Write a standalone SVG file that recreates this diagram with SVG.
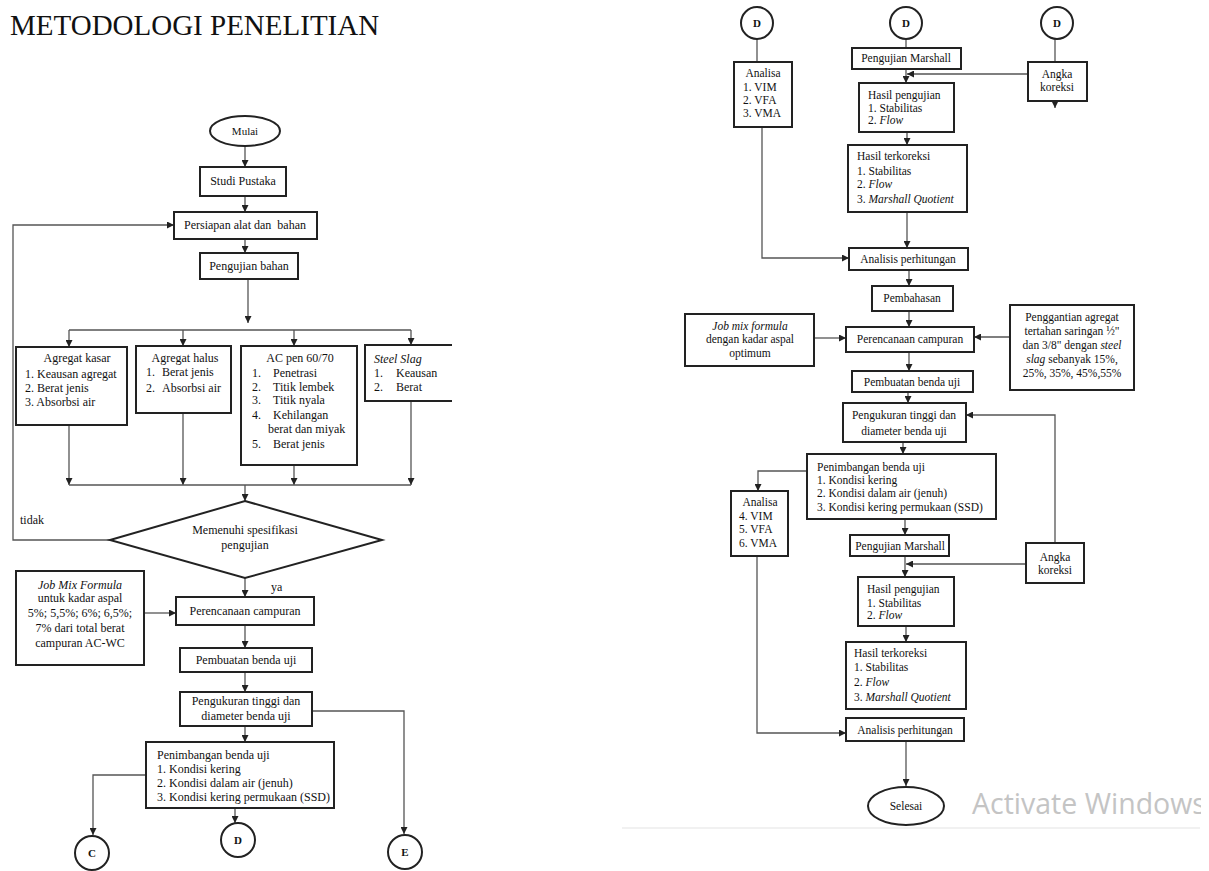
<svg xmlns="http://www.w3.org/2000/svg" width="1209" height="871" viewBox="0 0 1209 871">
<defs>
<marker id="ah" viewBox="0 0 10 10" refX="10" refY="5" markerWidth="7" markerHeight="7" markerUnits="userSpaceOnUse" orient="auto"><path d="M0,0 L10,5 L0,10 z" fill="#222"/></marker>
<clipPath id="cw"><rect x="0" y="0" width="1201" height="871"/></clipPath>
<style>
.b{fill:#fff;stroke:#222;stroke-width:2}
.c{fill:none;stroke:#555;stroke-width:1.3}
.a{marker-end:url(#ah)}
text{font-family:"Liberation Serif","Times New Roman",serif;fill:#111}
.L{font-size:12px}
.R{font-size:11.5px}
.m{text-anchor:middle}
.i{font-style:italic}
.k{font-size:11px;font-weight:bold;text-anchor:middle}
</style>
</defs>
<rect width="1209" height="871" fill="#fff"/>
<text x="10" y="35" style="font-size:29px">METODOLOGI PENELITIAN</text>

<g id="connectors">
<path class="c a" d="M245,146 V167"/>
<path class="c a" d="M245,196 V212"/>
<path class="c a" d="M245,239 V253"/>
<path class="c a" d="M248,279 V323"/>
<path class="c" d="M69,330 H411"/>
<path class="c a" d="M69,330 V347"/>
<path class="c a" d="M183,330 V346"/>
<path class="c a" d="M294,330 V346"/>
<path class="c a" d="M411,330 V345"/>
<path class="c a" d="M69,425 V485"/>
<path class="c a" d="M183,413 V485"/>
<path class="c a" d="M294,465 V485"/>
<path class="c a" d="M411,401 V485"/>
<path class="c" d="M69,485 H411"/>
<path class="c a" d="M245,485 V501"/>
<path class="c a" d="M110,540 H13 V225 H174"/>
<path class="c a" d="M245,578 V597"/>
<path class="c a" d="M144,613 H176"/>
<path class="c a" d="M245,625 V648"/>
<path class="c a" d="M245,672 V692"/>
<path class="c a" d="M312,711 H404 V834"/>
<path class="c a" d="M245,726 V742"/>
<path class="c a" d="M146,775 H93 V835"/>
<path class="c a" d="M235,808 V823"/>
<path class="c" d="M757,39 V62"/>
<path class="c" d="M906,39 V48"/>
<path class="c" d="M1055,39 V62"/>
<path class="c a" d="M906,69 V83"/>
<path class="c a" d="M1028,74 H907"/>
<path class="c a" d="M1055,101 V108"/>
<path class="c a" d="M907,132 V145"/>
<path class="c a" d="M907,212 V248"/>
<path class="c a" d="M762,127 V258 H849"/>
<path class="c a" d="M909,270 V286"/>
<path class="c a" d="M909,311 V327"/>
<path class="c a" d="M814,338 H846"/>
<path class="c a" d="M1010,337 H974"/>
<path class="c a" d="M909,352 V371"/>
<path class="c a" d="M908,392 V403"/>
<path class="c a" d="M903,442 V454"/>
<path class="c a" d="M807,471 H758 V491"/>
<path class="c a" d="M1055,543 V415 H966"/>
<path class="c a" d="M905,519 V535"/>
<path class="c a" d="M905,556 V577"/>
<path class="c a" d="M1026,564 H906"/>
<path class="c a" d="M906,626 V642"/>
<path class="c a" d="M757,556 V733 H846"/>
<path class="c a" d="M906,741 V786"/>
</g>

<g id="mulai"><ellipse cx="245" cy="131" rx="35" ry="15" class="b"/><text x="245" y="135" class="L m" style="font-size:11px">Mulai</text></g>
<g id="studi"><rect x="200" y="167" width="86" height="29" class="b"/><text x="243" y="185" class="L m">Studi Pustaka</text></g>
<g id="persiapan"><rect x="174" y="212" width="143" height="27" class="b"/><text x="245" y="229" class="L m">Persiapan alat dan&#160; bahan</text></g>
<g id="pengujian-bahan"><rect x="200" y="253" width="98" height="26" class="b"/><text x="249" y="270" class="L m">Pengujian bahan</text></g>
<g id="agregat-kasar"><rect x="16" y="347" width="111" height="78" class="b"/>
<text x="77" y="362" class="L m">Agregat kasar</text>
<text x="25" y="378" class="L">1. Keausan agregat</text>
<text x="25" y="392" class="L">2. Berat jenis</text>
<text x="25" y="406" class="L">3. Absorbsi air</text></g>
<g id="agregat-halus"><rect x="136" y="346" width="95" height="67" class="b"/>
<text x="185" y="362" class="L m">Agregat halus</text>
<text x="146" y="376" class="L">1.</text><text x="162" y="376" class="L">Berat jenis</text>
<text x="146" y="392" class="L">2.</text><text x="162" y="392" class="L">Absorbsi air</text></g>
<g id="ac-pen"><rect x="241" y="346" width="116" height="119" class="b"/>
<text x="300" y="362" class="L m">AC pen 60/70</text>
<text x="252" y="377" class="L">1.</text><text x="273" y="377" class="L">Penetrasi</text>
<text x="252" y="391" class="L">2.</text><text x="273" y="391" class="L">Titik lembek</text>
<text x="252" y="404" class="L">3.</text><text x="273" y="404" class="L">Titik nyala</text>
<text x="252" y="419" class="L">4.</text><text x="273" y="419" class="L">Kehilangan</text>
<text x="268" y="433" class="L">berat dan miyak</text>
<text x="252" y="448" class="L">5.</text><text x="273" y="448" class="L">Berat jenis</text></g>
<g id="steel-slag"><path d="M452,345 H365 V401 H452" class="b"/>
<text x="374" y="363" class="L i">Steel Slag</text>
<text x="374" y="377" class="L">1.</text><text x="396" y="377" class="L">Keausan</text>
<text x="374" y="391" class="L">2.</text><text x="396" y="391" class="L">Berat</text></g>
<g id="memenuhi"><polygon points="245,501 382,540 245,578 110,540" class="b"/>
<text x="245" y="534" class="L m">Memenuhi spesifikasi</text>
<text x="245" y="549" class="L m">pengujian</text></g>
<text x="20" y="524" class="L">tidak</text>
<text x="271" y="591" class="L">ya</text>
<g id="jmf"><rect x="16" y="571" width="128" height="94" class="b"/>
<text x="80" y="589" class="L m i">Job Mix Formula</text>
<text x="80" y="602" class="L m">untuk kadar aspal</text>
<text x="80" y="617" class="L m">5%; 5,5%; 6%; 6,5%;</text>
<text x="80" y="632" class="L m">7% dari total berat</text>
<text x="80" y="647" class="L m">campuran AC-WC</text></g>
<g id="perencanaan-l"><rect x="176" y="597" width="138" height="28" class="b"/><text x="245" y="615" class="L m">Perencanaan campuran</text></g>
<g id="pembuatan-l"><rect x="180" y="648" width="132" height="24" class="b"/><text x="246" y="664" class="L m">Pembuatan benda uji</text></g>
<g id="pengukuran-l"><rect x="180" y="692" width="132" height="34" class="b"/><text x="246" y="705" class="L m">Pengukuran tinggi dan</text><text x="246" y="720" class="L m">diameter benda uji</text></g>
<g id="penimbangan-l"><rect x="146" y="742" width="188" height="66" class="b"/>
<text x="157" y="759" class="L">Penimbangan benda uji</text>
<text x="157" y="773" class="L">1. Kondisi kering</text>
<text x="157" y="787" class="L">2. Kondisi dalam air (jenuh)</text>
<text x="157" y="801" class="L">3. Kondisi kering permukaan (SSD)</text></g>
<g id="c"><circle cx="92" cy="853" r="17" class="b"/><text x="92" y="857" class="k">C</text></g>
<g id="d"><circle cx="238" cy="840" r="17" class="b"/><text x="238" y="844" class="k">D</text></g>
<g id="e"><circle cx="405" cy="852" r="17" class="b"/><text x="405" y="856" class="k">E</text></g>

<g id="d1"><circle cx="757" cy="23" r="16" class="b"/><text x="757" y="27" class="k">D</text></g>
<g id="d2"><circle cx="906" cy="23" r="16" class="b"/><text x="906" y="27" class="k">D</text></g>
<g id="d3"><circle cx="1057" cy="23" r="16" class="b"/><text x="1057" y="27" class="k">D</text></g>
<g id="analisa1"><rect x="734" y="62" width="58" height="65" class="b"/>
<text x="763" y="77" class="R m">Analisa</text>
<text x="743" y="91" class="R">1. VIM</text>
<text x="743" y="104" class="R">2. VFA</text>
<text x="743" y="117" class="R">3. VMA</text></g>
<g id="marshall1"><rect x="852" y="48" width="109" height="21" class="b"/><text x="906" y="62" class="R m">Pengujian Marshall</text></g>
<g id="angka1"><rect x="1028" y="62" width="59" height="39" class="b"/><text x="1057" y="78" class="R m">Angka</text><text x="1057" y="91" class="R m">koreksi</text></g>
<g id="hasil1"><rect x="859" y="83" width="95" height="49" class="b"/>
<text x="868" y="99" class="R">Hasil pengujian</text>
<text x="868" y="112" class="R">1. Stabilitas</text>
<text x="868" y="124" class="R">2. <tspan class="i">Flow</tspan></text></g>
<g id="terkoreksi1"><rect x="848" y="145" width="119" height="67" class="b"/>
<text x="857" y="160" class="R">Hasil terkoreksi</text>
<text x="857" y="175" class="R">1. Stabilitas</text>
<text x="857" y="188" class="R">2. <tspan class="i">Flow</tspan></text>
<text x="857" y="203" class="R">3. <tspan class="i">Marshall Quotient</tspan></text></g>
<g id="analisis1"><rect x="849" y="248" width="119" height="22" class="b"/><text x="908" y="263" class="R m">Analisis perhitungan</text></g>
<g id="pembahasan"><rect x="872" y="286" width="81" height="25" class="b"/><text x="912" y="302" class="R m">Pembahasan</text></g>
<g id="jmf2"><rect x="685" y="314" width="129" height="52" class="b"/>
<text x="750" y="330" class="R m i">Job mix formula</text>
<text x="750" y="343" class="R m">dengan kadar aspal</text>
<text x="750" y="357" class="R m">optimum</text></g>
<g id="perencanaan-r"><rect x="846" y="327" width="128" height="25" class="b"/><text x="910" y="343" class="R m">Perencanaan campuran</text></g>
<g id="penggantian"><rect x="1010" y="305" width="124" height="85" class="b"/>
<text x="1072" y="321" class="R m">Penggantian agregat</text>
<text x="1072" y="335" class="R m">tertahan saringan ½"</text>
<text x="1072" y="349" class="R m">dan 3/8" dengan <tspan class="i">steel</tspan></text>
<text x="1072" y="363" class="R m"><tspan class="i">slag</tspan> sebanyak  15%,</text>
<text x="1072" y="377" class="R m">25%, 35%, 45%,55%</text></g>
<g id="pembuatan-r"><rect x="852" y="371" width="121" height="21" class="b"/><text x="912" y="386" class="R m">Pembuatan benda uji</text></g>
<g id="pengukuran-r"><rect x="843" y="403" width="123" height="39" class="b"/><text x="904" y="419" class="R m">Pengukuran tinggi dan</text><text x="904" y="435" class="R m">diameter benda uji</text></g>
<g id="penimbangan-r"><rect x="807" y="454" width="189" height="65" class="b"/>
<text x="817" y="471" class="R">Penimbangan benda uji</text>
<text x="817" y="484" class="R">1. Kondisi kering</text>
<text x="817" y="497" class="R">2. Kondisi dalam air (jenuh)</text>
<text x="817" y="511" class="R">3. Kondisi kering permukaan (SSD)</text></g>
<g id="analisa2"><rect x="731" y="491" width="57" height="65" class="b"/>
<text x="760" y="506" class="R m">Analisa</text>
<text x="739" y="520" class="R">4. VIM</text>
<text x="739" y="533" class="R">5. VFA</text>
<text x="739" y="547" class="R">6. VMA</text></g>
<g id="marshall2"><rect x="850" y="535" width="99" height="21" class="b"/><text x="900" y="550" class="R m">Pengujian Marshall</text></g>
<g id="angka2"><rect x="1026" y="543" width="58" height="40" class="b"/><text x="1055" y="561" class="R m">Angka</text><text x="1055" y="574" class="R m">koreksi</text></g>
<g id="hasil2"><rect x="858" y="577" width="96" height="49" class="b"/>
<text x="867" y="593" class="R">Hasil pengujian</text>
<text x="867" y="607" class="R">1. Stabilitas</text>
<text x="867" y="619" class="R">2. <tspan class="i">Flow</tspan></text></g>
<g id="terkoreksi2"><rect x="846" y="642" width="120" height="67" class="b"/>
<text x="854" y="657" class="R">Hasil terkoreksi</text>
<text x="854" y="671" class="R">1. Stabilitas</text>
<text x="854" y="686" class="R">2. <tspan class="i">Flow</tspan></text>
<text x="854" y="701" class="R">3. <tspan class="i">Marshall Quotient</tspan></text></g>
<g id="analisis2"><rect x="846" y="718" width="118" height="23" class="b"/><text x="905" y="734" class="R m">Analisis perhitungan</text></g>
<g id="selesai"><ellipse cx="906" cy="806" rx="38" ry="19" class="b"/><text x="906" y="810" class="R m">Selesai</text></g>
<line x1="622" y1="828" x2="1200" y2="828" stroke="#e4e4e4" stroke-width="1.2"/>
<text x="972" y="814" clip-path="url(#cw)" style="font-family:'Open Sans','Noto Sans',sans-serif;font-size:28.5px;fill:#c4c4c4">Activate Windows</text>
</svg>
